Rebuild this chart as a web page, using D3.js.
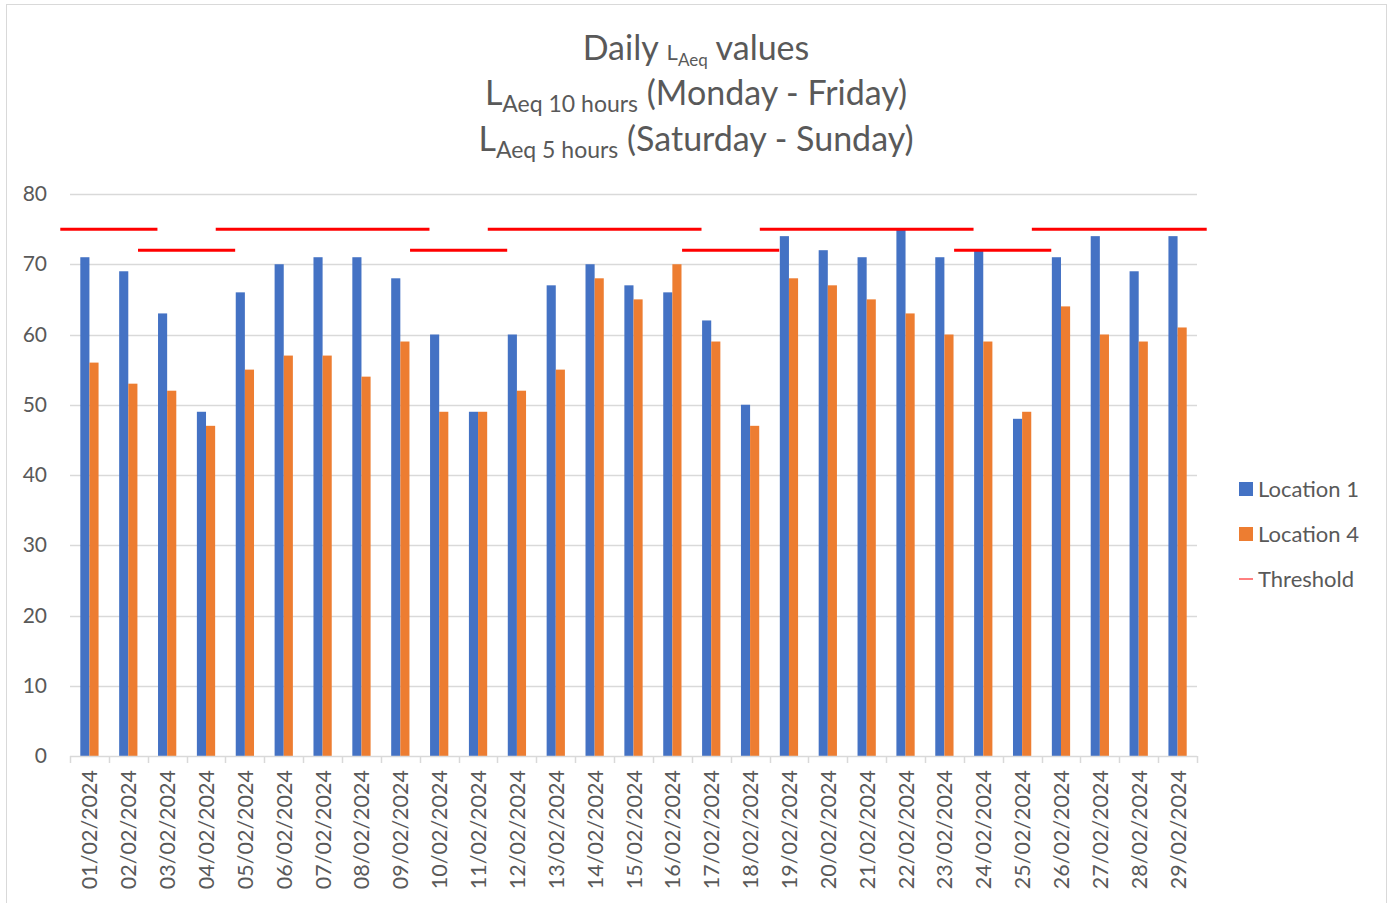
<!DOCTYPE html>
<html>
<head>
<meta charset="utf-8">
<script src="https://cdn.jsdelivr.net/npm/d3@7"></script>
<style>
  html, body { margin: 0; padding: 0; background: #fff; }
  svg text { font-family: "Lato", "Open Sans", sans-serif; fill: #595959; }
</style>
</head>
<body>
<svg id="chart" width="1389" height="903"></svg>
<script>
// data
const dates = ["01/02/2024","02/02/2024","03/02/2024","04/02/2024","05/02/2024","06/02/2024","07/02/2024",
  "08/02/2024","09/02/2024","10/02/2024","11/02/2024","12/02/2024","13/02/2024","14/02/2024","15/02/2024",
  "16/02/2024","17/02/2024","18/02/2024","19/02/2024","20/02/2024","21/02/2024","22/02/2024","23/02/2024",
  "24/02/2024","25/02/2024","26/02/2024","27/02/2024","28/02/2024","29/02/2024"];
const location1 = [71,69,63,49,66,70,71,71,68,60,49,60,67,70,67,66,62,50,74,72,71,75,71,72,48,71,74,69,74];
const location4 = [56,53,52,47,55,57,57,54,59,49,49,52,55,68,65,70,59,47,68,67,65,63,60,59,49,64,60,59,61];
// threshold: 75 weekdays (10 h), 72 weekends (5 h)
const threshold = [75,75,72,72,75,75,75,75,75,72,72,75,75,75,75,75,72,72,75,75,75,75,75,72,72,75,75,75,75];
const yTicks = [0,10,20,30,40,50,60,70,80];

const svg = d3.select("#chart");
const blue = "#4472c4", orange = "#ed7d31", red = "#ff0000";

// chart border
svg.append("rect").attr("x", 6.5).attr("y", 4.5).attr("width", 1380).attr("height", 920)
  .attr("fill", "none").attr("stroke", "#d9d9d9");

const plotLeft = 70, plotRight = 1197, plotTop = 194, plotBottom = 756;

const x = d3.scaleBand().domain(dates).range([plotLeft, plotRight]).padding(0);
const y = d3.scaleLinear().domain([0, 80]).range([plotBottom, plotTop]);
const bw = x.bandwidth();
const barW = bw * 0.235;

// gridlines + y labels
svg.append("g").selectAll("line").data(yTicks.filter(d => d > 0)).join("line")
  .attr("x1", plotLeft).attr("x2", plotRight)
  .attr("y1", d => Math.round(y(d)) + 0.5).attr("y2", d => Math.round(y(d)) + 0.5)
  .attr("stroke", "#d9d9d9").attr("stroke-width", 1.5);

svg.append("g").selectAll("text").data(yTicks).join("text")
  .attr("x", 47).attr("y", d => y(d) + 7)
  .attr("text-anchor", "end").attr("font-size", 21)
  .text(d => d);

// bars
const bars = svg.append("g");
bars.selectAll("rect.l1").data(location1).join("rect").attr("class", "l1")
  .attr("x", (d, i) => x(dates[i]) + bw / 2 - barW)
  .attr("y", d => y(d)).attr("width", barW).attr("height", d => y(0) - y(d))
  .attr("fill", blue);
bars.selectAll("rect.l4").data(location4).join("rect").attr("class", "l4")
  .attr("x", (d, i) => x(dates[i]) + bw / 2)
  .attr("y", d => y(d)).attr("width", barW).attr("height", d => y(0) - y(d))
  .attr("fill", orange);

// x axis line and ticks
svg.append("line").attr("x1", plotLeft).attr("x2", plotRight)
  .attr("y1", plotBottom + 0.5).attr("y2", plotBottom + 0.5)
  .attr("stroke", "#d9d9d9").attr("stroke-width", 1.5);
const bounds = dates.map(d => x(d)).concat([plotRight]);
svg.append("g").selectAll("line").data(bounds).join("line")
  .attr("x1", d => Math.round(d) + 0.5).attr("x2", d => Math.round(d) + 0.5)
  .attr("y1", plotBottom).attr("y2", plotBottom + 7)
  .attr("stroke", "#d9d9d9").attr("stroke-width", 1.5);

svg.append("g").selectAll("text").data(dates).join("text")
  .attr("transform", d => `translate(${x(d) + bw / 2 + 8},770) rotate(-90)`)
  .attr("text-anchor", "end").attr("font-size", 21.5)
  .text(d => d);

// threshold segments: group consecutive equal values
const runs = [];
threshold.forEach((v, i) => {
  const last = runs[runs.length - 1];
  if (last && last.v === v) last.end = i; else runs.push({ v, start: i, end: i });
});
svg.append("g").selectAll("line").data(runs).join("line")
  .attr("x1", r => x(dates[r.start]) - bw * 0.25)
  .attr("x2", r => x(dates[r.end]) + bw * 1.25)
  .attr("y1", r => y(r.v)).attr("y2", r => y(r.v))
  .attr("stroke", red).attr("stroke-width", 3);

// title
const title = svg.append("text").attr("text-anchor", "middle").attr("font-size", 34);
const l1 = title.append("tspan").attr("x", 696).attr("y", 60);
l1.append("tspan").text("Daily ");
l1.append("tspan").attr("font-size", 22).text("L");
l1.append("tspan").attr("font-size", 17).attr("dy", 6).text("Aeq");
l1.append("tspan").attr("dy", -6).text(" values");

const l2 = title.append("tspan").attr("x", 696).attr("y", 105);
l2.append("tspan").text("L");
l2.append("tspan").attr("font-size", 23).attr("dy", 7).text("Aeq 10 hours");
l2.append("tspan").attr("dy", -7).text(" (Monday - Friday)");

const l3 = title.append("tspan").attr("x", 696).attr("y", 151);
l3.append("tspan").text("L");
l3.append("tspan").attr("font-size", 23).attr("dy", 7).text("Aeq 5 hours");
l3.append("tspan").attr("dy", -7).text(" (Saturday - Sunday)");

// legend
const legend = [
  { name: "Location 1", color: blue, kind: "box", y: 489 },
  { name: "Location 4", color: orange, kind: "box", y: 534 },
  { name: "Threshold", color: red, kind: "line", y: 579 }
];
const lg = svg.append("g");
legend.forEach(item => {
  if (item.kind === "box") {
    lg.append("rect").attr("x", 1239).attr("y", item.y - 7).attr("width", 14).attr("height", 14)
      .attr("fill", item.color);
  } else {
    lg.append("line").attr("x1", 1239).attr("x2", 1253).attr("y1", item.y).attr("y2", item.y)
      .attr("stroke", item.color).attr("stroke-width", 1);
  }
  lg.append("text").attr("x", 1258).attr("y", item.y + 8).attr("font-size", 22).text(item.name);
});
</script>
</body>
</html>
